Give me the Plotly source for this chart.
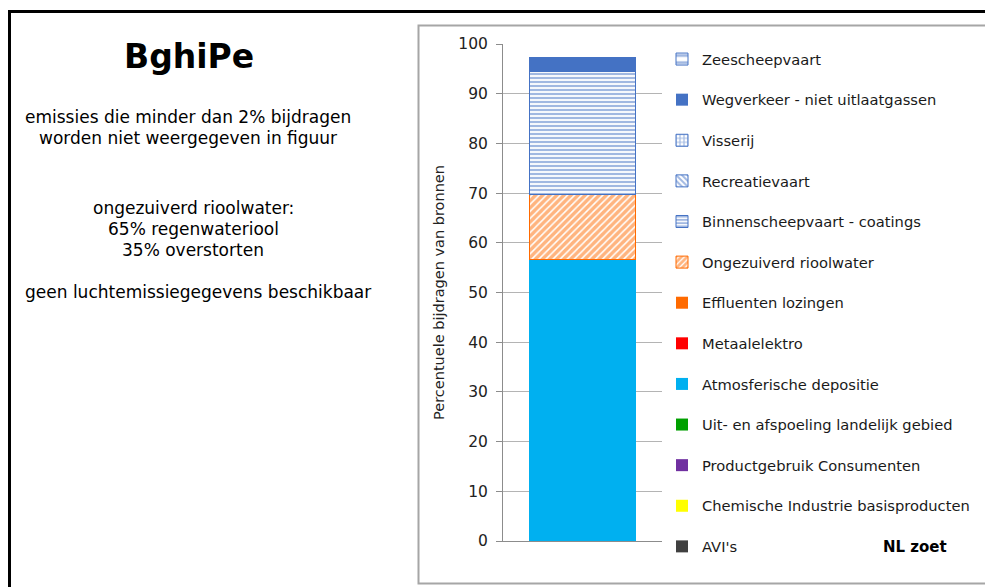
import plotly.graph_objects as go

category = ["NL zoet"]
sources = ["AVI's", "Chemische Industrie basisproducten", "Productgebruik Consumenten",
           "Uit- en afspoeling landelijk gebied", "Atmosferische depositie", "Metaalelektro",
           "Effluenten lozingen", "Ongezuiverd rioolwater", "Binnenscheepvaart - coatings",
           "Recreatievaart", "Visserij", "Wegverkeer - niet uitlaatgassen", "Zeescheepvaart"]
values = [0, 0, 0, 0, 56.6, 0, 0, 13.2, 24.6, 0, 0, 2.8, 0]
colors = ["#404040", "#FFFF00", "#7030A0", "#00A000", "#00B0F0", "#FF0000",
          "#FF6A00", "#FF6A00", "#4472C4", "#4472C4", "#4472C4", "#4472C4", "#4472C4"]
patterns = ["", "", "", "", "", "", "", "/", "-", "\\", "+", "", "-"]
pattern_sizes = [8, 8, 8, 8, 8, 8, 8, 5, 4, 5, 5, 8, 9]
pattern_solidity = [0.5, 0.5, 0.5, 0.5, 0.5, 0.5, 0.5, 0.7, 0.55, 0.5, 0.5, 0.5, 0.4]
y_ticks = [0, 10, 20, 30, 40, 50, 60, 70, 80, 90, 100]

FONT = "DejaVu Sans"
OFF = 8  # browser body margin offset
W, H = 985, 579
L, R, T, B = 503 - OFF, 662 - OFF, 44 - OFF, 541 - OFF


def fx(xpx):
    return (xpx - OFF - L) / (R - L)


def fy(ypx):
    return (B - (ypx - OFF)) / (B - T)


fig = go.Figure()
n = len(sources)
for i, (name, v, c, p, ps, so) in enumerate(zip(sources, values, colors, patterns,
                                                 pattern_sizes, pattern_solidity)):
    if p:
        marker = dict(color="white", line=dict(color=c, width=1),
                      pattern=dict(shape=p, fgcolor=c, bgcolor="white", size=ps, solidity=so,
                                   fillmode="overlay"))
    else:
        marker = dict(color=c, line=dict(width=0))
    fig.add_trace(go.Bar(x=category, y=[v], name=name, marker=marker,
                         legendgroup=f"g{i}", legendrank=1000 + (n - i), showlegend=True))

fig.update_layout(
    width=W, height=H, barmode="stack", bargap=0.33,
    margin=dict(l=L, r=W - R, t=T, b=H - B, autoexpand=False),
    paper_bgcolor="white", plot_bgcolor="white",
    font=dict(family=FONT, size=13, color="#222222"),
    legend=dict(x=fx(662), xanchor="left", y=fy(43), yanchor="top",
                traceorder="grouped", tracegroupgap=18.5, maxheight=900,
                font=dict(family=FONT, size=14.7, color="#1a1a1a"), bgcolor="rgba(0,0,0,0)"),
    showlegend=True,
)
fig.update_yaxes(range=[0, 100], tickvals=y_ticks, ticktext=[str(t) for t in y_ticks],
                 showline=True, linecolor="#8c8c8c", linewidth=1, ticks="outside", ticklen=6,
                 tickcolor="#8c8c8c", showgrid=True, gridcolor="#b4b4b4", gridwidth=1,
                 tickfont=dict(family=FONT, size=15.5, color="#222222"), zeroline=False,
                 ticklabelstandoff=5,
                 title=dict(text="Percentuele bijdragen van bronnen", standoff=10,
                            font=dict(family=FONT, size=14.5, color="#222222")))
fig.update_xaxes(showticklabels=False, showline=True, linecolor="#8c8c8c", linewidth=1,
                 ticks="", showgrid=False)

shapes = [
    dict(type="rect", xref="paper", yref="paper", x0=fx(9.5), x1=fx(1010),
         y0=fy(610), y1=fy(11.5), line=dict(color="black", width=3),
         fillcolor="rgba(0,0,0,0)", layer="below"),
    dict(type="rect", xref="paper", yref="paper", x0=fx(418.5), x1=fx(990.5),
         y0=fy(583.5), y1=fy(25.5), line=dict(color="#a6a6a6", width=2),
         fillcolor="rgba(0,0,0,0)", layer="below"),
]
fig.update_layout(shapes=shapes)


def ann(text, x, y, size, bold=False):
    fig.add_annotation(xref="paper", yref="paper", x=fx(x), y=fy(y),
                       text=f"<b>{text}</b>" if bold else text, showarrow=False,
                       xanchor="center", yanchor="middle",
                       font=dict(family=FONT, size=size, color="black"))


ann("BghiPe", 189, 57, 33, bold=True)
ann("emissies die minder dan 2% bijdragen", 188, 117, 17)
ann("worden niet weergegeven in figuur", 188, 138, 17)
ann("ongezuiverd rioolwater:", 193, 208, 17)
ann("65% regenwateriool", 193, 229, 17)
ann("35% overstorten", 193, 250, 17)
ann("geen luchtemissiegegevens beschikbaar", 198, 292, 17)
ann("NL zoet", 915, 547, 15, bold=True)

fig.write_html("out.html")
